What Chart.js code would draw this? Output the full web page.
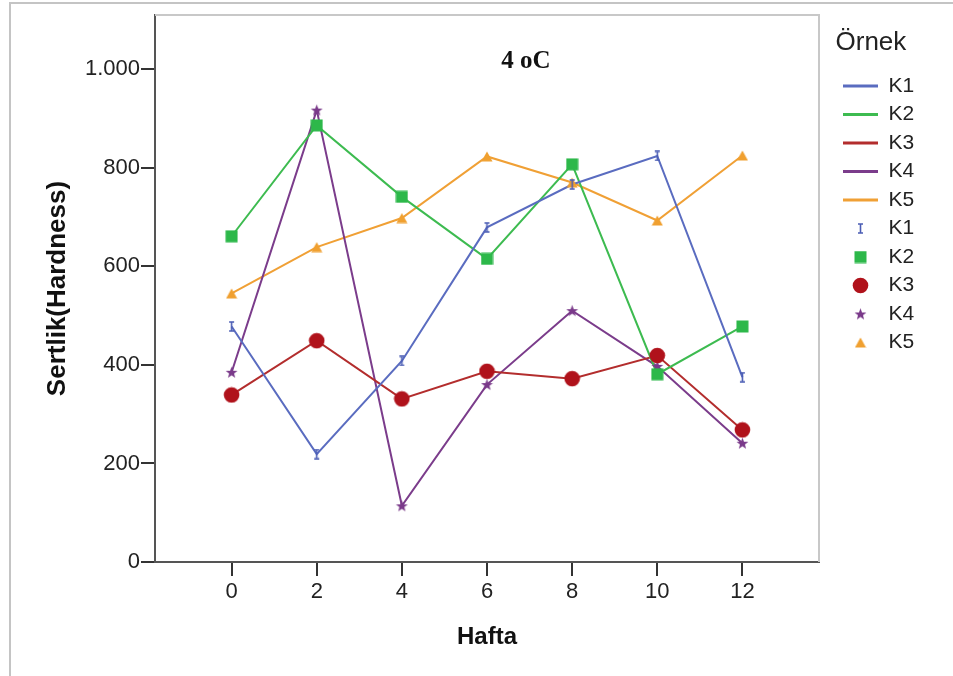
<!DOCTYPE html>
<html>
<head>
<meta charset="utf-8">
<script src="https://cdn.jsdelivr.net/npm/chart.js@4.4.1/dist/chart.umd.min.js"></script>
<style>
  html, body { margin: 0; padding: 0; background: #ffffff; }
  #wrap { width: 953px; height: 676px; position: relative; }
</style>
</head>
<body>
<div id="wrap"><canvas id="c" width="953" height="676"></canvas></div>
<script>
// ---- data ----
const weeks = [0, 2, 4, 6, 8, 10, 12];
const seriesNames = ['K1', 'K2', 'K3', 'K4', 'K5'];
const k1 = [478, 219, 408, 679, 766, 824, 375];
const k2 = [661, 886, 741, 615, 807, 381, 478];
const k3 = [339, 449, 331, 387, 372, 419, 268];
const k4 = [385, 917, 114, 360, 510, 397, 241];
const k5 = [545, 639, 698, 823, 770, 693, 825];
const yTicks = [0, 200, 400, 600, 800, 1000];
const xTicks = [0, 2, 4, 6, 8, 10, 12];
const chartTitle = '4 oC';
const xTitle = 'Hafta';
const yTitle = 'Sertlik(Hardness)';
const legendTitle = 'Örnek';

// ---- styles ----
const lineColors = ['#5a6cc0', '#3dbb50', '#b32d2d', '#7b3c8b', '#f0a035'];
const markColors = ['#4a5cb4', '#2db84a', '#b0121b', '#7a3a8a', '#f0a030'];
const FONT = "'Liberation Sans', Arial, sans-serif";

function mk(w, h, fn) {
  const c = document.createElement('canvas');
  c.width = w; c.height = h;
  fn(c.getContext('2d'), w, h);
  return c;
}
const markers = [
  mk(7, 11, (g, w, h) => { g.strokeStyle = markColors[0]; g.lineWidth = 1.6;
    g.beginPath(); g.moveTo(3.5, 1); g.lineTo(3.5, 10); g.moveTo(1, 1); g.lineTo(6, 1); g.moveTo(1, 10); g.lineTo(6, 10); g.stroke(); }),
  mk(13, 13, (g, w, h) => { g.fillStyle = markColors[1]; g.fillRect(0.5, 0.5, 12, 12); }),
  mk(17, 17, (g, w, h) => { g.fillStyle = markColors[2]; g.beginPath(); g.arc(8.5, 8.5, 7.8, 0, Math.PI * 2); g.fill(); }),
  mk(13, 13, (g, w, h) => { g.fillStyle = markColors[3]; g.beginPath();
    for (let i = 0; i < 10; i++) { const r = i % 2 ? 2.6 : 6.2; const a = -Math.PI / 2 + i * Math.PI / 5;
      const x = 6.5 + r * Math.cos(a), y = 7 + r * Math.sin(a); i ? g.lineTo(x, y) : g.moveTo(x, y); }
    g.closePath(); g.fill(); }),
  mk(12, 11, (g, w, h) => { g.fillStyle = markColors[4]; g.beginPath(); g.moveTo(6, 0.5); g.lineTo(11.5, 10.5); g.lineTo(0.5, 10.5); g.closePath(); g.fill(); })
];

const seriesData = [k1, k2, k3, k4, k5];
const toXY = arr => weeks.map((w, i) => ({ x: w, y: arr[i] }));

const datasets = [];
seriesData.forEach((arr, i) => {
  datasets.push({ label: seriesNames[i], data: toXY(arr), showLine: false, pointStyle: markers[i],
    pointRadius: 5, pointHoverRadius: 5, borderColor: markColors[i], backgroundColor: markColors[i], order: 0 });
});
seriesData.forEach((arr, i) => {
  datasets.push({ label: seriesNames[i], data: toXY(arr), showLine: true, pointRadius: 0, pointHoverRadius: 0,
    borderColor: lineColors[i], backgroundColor: lineColors[i], borderWidth: 2, tension: 0, order: 1 });
});

const fmt = v => String(v).replace(/\B(?=(\d{3})+(?!\d))/g, '.');

const framePlugin = {
  id: 'frame',
  beforeDraw(chart) {
    const g = chart.ctx;
    g.save();
    g.fillStyle = '#fff'; g.fillRect(0, 0, chart.width, chart.height);
    g.strokeStyle = '#c4c4c4'; g.lineWidth = 2;
    g.beginPath(); g.moveTo(10, chart.height); g.lineTo(10, 3); g.lineTo(chart.width, 3); g.stroke();
    g.restore();
  },
  beforeDatasetsDraw(chart) {
    const a = chart.chartArea, g = chart.ctx;
    g.save();
    g.strokeStyle = '#c8c8c8'; g.lineWidth = 2;
    g.beginPath(); g.moveTo(a.left, a.top); g.lineTo(a.right, a.top); g.lineTo(a.right, a.bottom); g.stroke();
    g.restore();
  },
  afterDraw(chart) {
    const a = chart.chartArea, g = chart.ctx;
    g.save();
    g.font = "bold 25px 'Liberation Serif', 'Times New Roman', serif";
    g.fillStyle = '#111'; g.textAlign = 'center'; g.textBaseline = 'middle';
    g.fillText(chartTitle, (a.left + a.right) / 2 + 39, a.top + 47);
    g.restore();
  },
  afterLayout(chart) {
    const l = chart.legend;
    if (l) { const w = l.right - l.left; l.left = chart.chartArea.right + 16.5; l.right = l.left + w; }
  }
};

const TARGET_RIGHT = 819;
const chart = new Chart(document.getElementById('c'), {
  type: 'scatter',
  data: { datasets },
  plugins: [framePlugin],
  options: {
    responsive: false,
    animation: false,
    devicePixelRatio: 1,
    layout: { padding: { left: 12, top: 15, right: 37, bottom: 0 } },
    scales: {
      x: {
        type: 'linear', min: -1.8, max: 13.8,
        afterBuildTicks: s => { s.ticks = xTicks.map(v => ({ value: v })); },
        afterFit: s => { s.height = 114; },
        ticks: { color: '#222', font: { family: FONT, size: 22 }, padding: 3, autoSkip: false, maxRotation: 0 },
        grid: { display: true, drawOnChartArea: false, drawTicks: true, tickLength: 14, color: '#333', lineWidth: 2 },
        border: { display: true, color: '#555', width: 2 },
        title: { display: true, text: xTitle, color: '#111', font: { family: FONT, size: 24, weight: 'bold' }, padding: { top: 0, bottom: 24.6 } }
      },
      y: {
        type: 'linear', min: 0, max: 1110,
        afterBuildTicks: s => { s.ticks = yTicks.map(v => ({ value: v })); },
        afterFit: s => { s.width = 143; },
        ticks: { color: '#222', font: { family: FONT, size: 22 }, padding: 1, callback: v => fmt(v) },
        grid: { display: true, drawOnChartArea: false, drawTicks: true, tickLength: 14, color: '#333', lineWidth: 2 },
        border: { display: true, color: '#555', width: 2 },
        title: { display: true, text: yTitle, color: '#111', font: { family: FONT, size: 26, weight: 'bold' }, padding: { top: 30.4, bottom: 0 } }
      }
    },
    plugins: {
      tooltip: { enabled: false },
      legend: {
        display: true, position: 'right', align: 'start',
        title: { display: true, text: legendTitle, position: 'start', color: '#222',
          font: { family: FONT, size: 26 }, padding: { top: 15, bottom: 6.8 } },
        labels: {
          usePointStyle: true, pointStyleWidth: 35, padding: 7.5, color: '#222',
          font: { family: FONT, size: 21 },
          generateLabels: ch => {
            const items = [];
            seriesNames.forEach((n, i) => items.push({ text: n, pointStyle: 'line', strokeStyle: lineColors[i],
              fillStyle: lineColors[i], lineWidth: 3, hidden: false, datasetIndex: 5 + i }));
            seriesNames.forEach((n, i) => items.push({ text: n, pointStyle: markers[i], strokeStyle: markColors[i],
              fillStyle: markColors[i], lineWidth: 0, hidden: false, datasetIndex: i }));
            return items;
          }
        }
      }
    }
  }
});
const diff = chart.chartArea.right - TARGET_RIGHT;
if (Math.abs(diff) > 0.5) {
  chart.options.layout.padding.right += diff;
  chart.update();
}
</script>
</body>
</html>
